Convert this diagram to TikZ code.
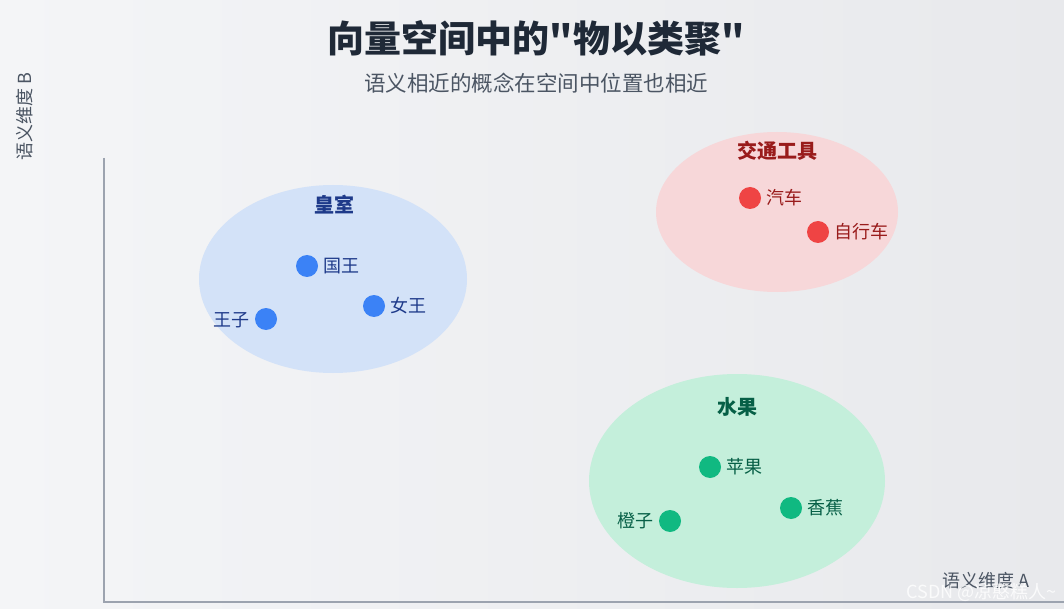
\documentclass[tikz,border=0pt]{standalone}
\usepackage{fontspec}
\usetikzlibrary{shapes.geometric}
\newfontfamily\cjk{Noto Sans CJK SC}
\definecolor{bgA}{HTML}{F4F5F7}
\definecolor{bgB}{HTML}{E8E9EC}
\definecolor{axisc}{HTML}{9CA3AF}
\definecolor{blueF}{HTML}{D3E2F8}
\definecolor{redF}{HTML}{F7D7D9}
\definecolor{greenF}{HTML}{C4EFDB}
\definecolor{blueD}{HTML}{3B82F6}
\definecolor{redD}{HTML}{EF4444}
\definecolor{greenD}{HTML}{10B981}
\definecolor{blueT}{HTML}{1E3A8A}
\definecolor{redT}{HTML}{991B1B}
\definecolor{greenT}{HTML}{065F46}
\definecolor{titleC}{HTML}{1F2937}
\definecolor{subC}{HTML}{4B5563}
\begin{document}
\begin{tikzpicture}[x=1pt,y=-1pt,font=\cjk,
  dot/.style={circle,inner sep=0pt,minimum size=22pt},
  lab/.style={font=\cjk\fontsize{18}{21}\selectfont,inner sep=0pt},
  grp/.style={font=\cjk\bfseries\fontsize{20}{23}\selectfont,inner sep=0pt},
  axlab/.style={font=\cjk\fontsize{18}{21}\selectfont,text=subC,inner sep=0pt}]
\useasboundingbox (0,0) rectangle (1064,609);
\shade[left color=bgA,right color=bgB] (0,0) rectangle (1064,609);
\node[font=\cjk\bfseries\fontsize{37}{42}\selectfont,text=titleC] (title) at (536,38) {向量空间中的"物以类聚"};
\node[font=\cjk\fontsize{21.5}{25}\selectfont,text=subC] (sub) at (536,83) {语义相近的概念在空间中位置也相近};
\coordinate (o) at (104,602);
\coordinate (yt) at (104,158);
\coordinate (xr) at (1064,602);
\draw[axisc,line width=2pt] (yt) -- (o) -- (xr);
\node[axlab,rotate=90] (ylab) at (25,117) {语义维度 B};
\node[axlab] (xlab) at (986,581) {语义维度 A};
% royal
\node[ellipse,fill=blueF,minimum width=268pt,minimum height=188pt,inner sep=0pt] (e1) at (333,279) {};
\node[grp,text=blueT] (g1) at (334,205) {皇室};
\node[dot,fill=blueD] (k) at (307,266) {};
\node[lab,text=blueT,anchor=west] (kl) at (323,266) {国王};
\node[dot,fill=blueD] (q) at (374,306) {};
\node[lab,text=blueT,anchor=west] (ql) at (390,306) {女王};
\node[dot,fill=blueD] (p) at (266,319) {};
\node[lab,text=blueT,anchor=east] (pl) at (250,320) {王子};
% transport
\node[ellipse,fill=redF,minimum width=242pt,minimum height=160pt,inner sep=0pt] (e2) at (777,212) {};
\node[grp,text=redT] (g2) at (777,151) {交通工具};
\node[dot,fill=redD] (c) at (750,198) {};
\node[lab,text=redT,anchor=west] (cl) at (766,198) {汽车};
\node[dot,fill=redD] (b) at (818,232) {};
\node[lab,text=redT,anchor=west] (bl) at (834,232) {自行车};
% fruit
\node[ellipse,fill=greenF,minimum width=296pt,minimum height=214pt,inner sep=0pt] (e3) at (737,481) {};
\node[grp,text=greenT] (g3) at (737,407) {水果};
\node[dot,fill=greenD] (a) at (710,467) {};
\node[lab,text=greenT,anchor=west] (al) at (726,467) {苹果};
\node[dot,fill=greenD] (ba) at (791,508) {};
\node[lab,text=greenT,anchor=west] (bal) at (807,508) {香蕉};
\node[dot,fill=greenD] (o2) at (670,521) {};
\node[lab,text=greenT,anchor=east] (ol) at (654,521) {橙子};
\node[font=\cjk\fontsize{18}{21}\selectfont,text=white,opacity=0.8,anchor=east] (wm) at (1060,592) {CSDN @凉憨糕人\textasciitilde};
\end{tikzpicture}
\end{document}
